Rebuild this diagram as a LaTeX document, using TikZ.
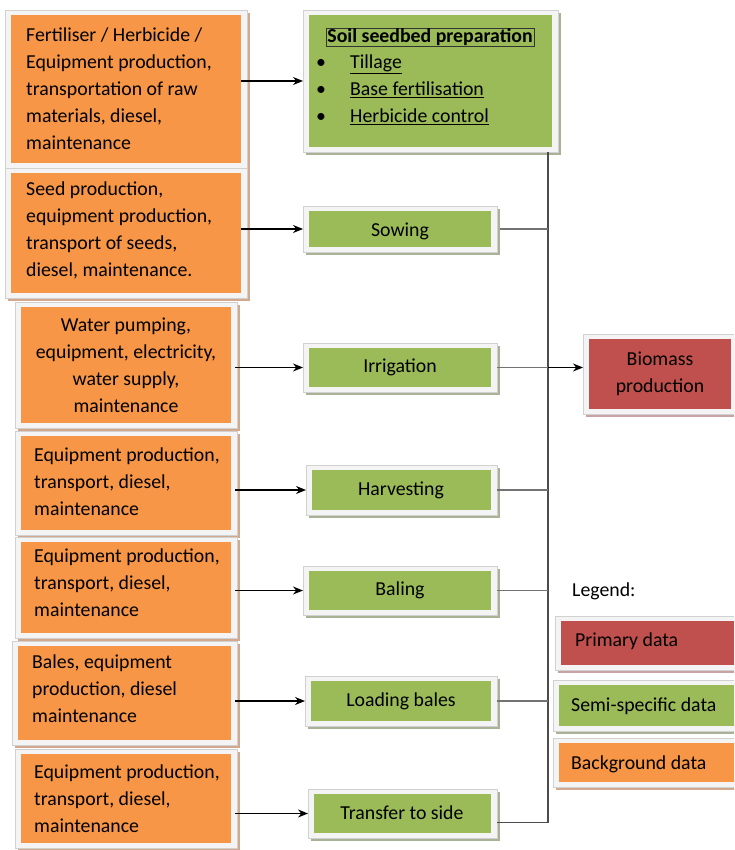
\documentclass[tikz,border=0pt]{standalone}
\usepackage{fontspec}
\setmainfont{Carlito}
\usetikzlibrary{arrows.meta}
\definecolor{org}{HTML}{F79646}
\definecolor{grn}{HTML}{9BBB59}
\definecolor{rd}{HTML}{C0504D}
\definecolor{orgsh}{HTML}{D3A98E}
\definecolor{grnsh}{HTML}{A9B295}
\definecolor{rdsh}{HTML}{C9A3A3}
\definecolor{frm}{HTML}{F4F4F4}
\tikzset{
  frame/.style={fill=frm, draw=black!18, line width=0.6pt, inner sep=0pt, outer sep=0pt},
  infill/.style={inner sep=0pt, outer sep=0pt},
  txt/.style={font=\fontsize{19.8}{27}\selectfont, inner sep=0pt, text=black},
  arr/.style={-{Stealth[length=10pt,width=8pt]}, line width=1.4pt, black},
  ln/.style={line width=1.3pt, black!55},
  bus/.style={line width=1.3pt, black!70},
}
% name, x1, y1, x2, y2, fill, shadow
\newcommand{\fbx}[7]{%
  \fill[#7] ({#2+3},{#3+3}) rectangle ({#4+3},{#5+3});
  \node[frame, minimum width={(#4-#2)*1pt}, minimum height={(#5-#3)*1pt}] (#1) at ({(#2+#4)/2},{(#3+#5)/2}) {};
  \node[infill, fill=#6, minimum width={(#4-#2-12)*1pt}, minimum height={(#5-#3-10)*1pt}] (#1-in) at (#1) {};
}
\begin{document}
\begin{tikzpicture}[x=1pt,y=-1pt]
\clip (0,0) rectangle (734,850);
\fill[white] (0,0) rectangle (734,850);

% orange boxes
\fbx{o1}{5}{10}{247}{168}{org}{orgsh}
\fbx{o2}{5}{168}{247}{298}{org}{orgsh}
\fbx{o3}{15}{302}{237}{428}{org}{orgsh}
\fbx{o4}{15}{431}{237}{535}{org}{orgsh}
\fbx{o5}{15}{537}{237}{638}{org}{orgsh}
\fbx{o6}{12}{641}{237}{745}{org}{orgsh}
\fbx{o7}{15}{749}{237}{848}{org}{orgsh}

% green boxes
\fbx{g1}{303}{10}{558}{152}{grn}{grnsh}
\fbx{g2}{303}{206}{497}{252}{grn}{grnsh}
\fbx{g3}{303}{343}{497}{392}{grn}{grnsh}
\fbx{g4}{306}{465}{497}{515}{grn}{grnsh}
\fbx{g5}{303}{566}{497}{615}{grn}{grnsh}
\fbx{g6}{305}{676}{497}{726}{grn}{grnsh}
\fbx{g7}{308}{789}{497}{838}{grn}{grnsh}

% red box
\fbx{bio}{583}{334}{737}{414}{rd}{rdsh}

% legend boxes
\fbx{lp}{555}{616}{740}{670}{rd}{rdsh}
\fbx{ls}{553}{680}{740}{731}{grn}{grnsh}
\fbx{lb}{553}{738}{740}{787}{org}{orgsh}

% orange texts
\node[txt, anchor=west, align=left] (t1) at (26,90) {\strut Fertiliser / Herbicide /\\\strut Equipment production,\\\strut transportation of raw\\\strut materials, diesel,\\\strut maintenance};
\node[txt, anchor=west, align=left] (t2) at (26,231) {\strut Seed production,\\\strut equipment production,\\\strut transport of seeds,\\\strut diesel, maintenance.};
\node[txt, align=center] (t3) at (126,367) {\strut Water pumping,\\\strut equipment, electricity,\\\strut water supply,\\\strut maintenance};
\node[txt, anchor=west, align=left] (t4) at (34,483) {\strut Equipment production,\\\strut transport, diesel,\\\strut maintenance};
\node[txt, anchor=west, align=left] (t5) at (34,584) {\strut Equipment production,\\\strut transport, diesel,\\\strut maintenance};
\node[txt, anchor=west, align=left] (t6) at (32,690) {\strut Bales, equipment\\\strut production, diesel\\\strut maintenance};
\node[txt, anchor=west, align=left] (t7) at (34,800) {\strut Equipment production,\\\strut transport, diesel,\\\strut maintenance};

% green texts
\node[txt, draw=black!80, line width=0.7pt, inner xsep=1.5pt, inner ysep=0.5pt, font=\fontsize{19.8}{22}\selectfont\bfseries] (st) at (430,37) {Soil seedbed preparation};
\node[txt, anchor=west, align=left] (sl) at (316,90) {\strut\makebox[34pt][l]{\textbullet}\underline{Tillage}\\\strut\makebox[34pt][l]{\textbullet}\underline{Base fertilisation}\\\strut\makebox[34pt][l]{\textbullet}\underline{Herbicide control}};
\node[txt] (s2) at (400,231) {Sowing};
\node[txt] (s3) at (400,367) {Irrigation};
\node[txt] (s4) at (401,490) {Harvesting};
\node[txt] (s5) at (400,590) {Baling};
\node[txt] (s6) at (401,701) {Loading bales};
\node[txt] (s7) at (402,813) {Transfer to side};

% red text
\node[txt, align=center] (bt) at (660,374) {\strut Biomass\\\strut production};

% legend texts
\node[txt, anchor=west] (lg) at (572,591) {Legend:};
\node[txt, anchor=west] (lpt) at (575,641) {Primary data};
\node[txt, anchor=west] (lst) at (571,706) {Semi-specific data};
\node[txt, anchor=west] (lbt) at (571,764) {Background data};

% bus
\coordinate (bus) at (548,0);
\draw[bus] (g1.south -| bus) |- ([yshift=-9pt]g7.east);

% arrows orange -> green
\draw[arr] (o1-in.east |- g1.west) -- (g1.west);
\draw[arr] (o2-in.east |- g2.west) -- (g2.west);
\draw[arr] ([xshift=4pt]o3-in.east |- g3.west) -- (g3.west);
\draw[arr] ([xshift=4pt]o4-in.east |- g4.west) -- (g4.west);
\draw[arr] ([xshift=4pt]o5-in.east |- g5.west) -- (g5.west);
\draw[arr] ([xshift=4pt]o6-in.east |- g6.west) -- (g6.west);
\draw[arr] ([xshift=4pt]o7-in.east |- g7.west) -- (g7.west);

% green -> bus
\draw[ln] ([xshift=3pt]g2.east) -- (g2.east -| bus);
\draw[ln] (g3.east) -- (g3.east -| bus);
\draw[ln] (g4.east) -- (g4.east -| bus);
\draw[ln] (g5.east) -- (g5.east -| bus);
\draw[ln] (g6.east) -- (g6.east -| bus);

% bus -> biomass
\draw[arr] (g3.east -| bus) -- (g3.east -| bio.west);
\end{tikzpicture}
\end{document}
